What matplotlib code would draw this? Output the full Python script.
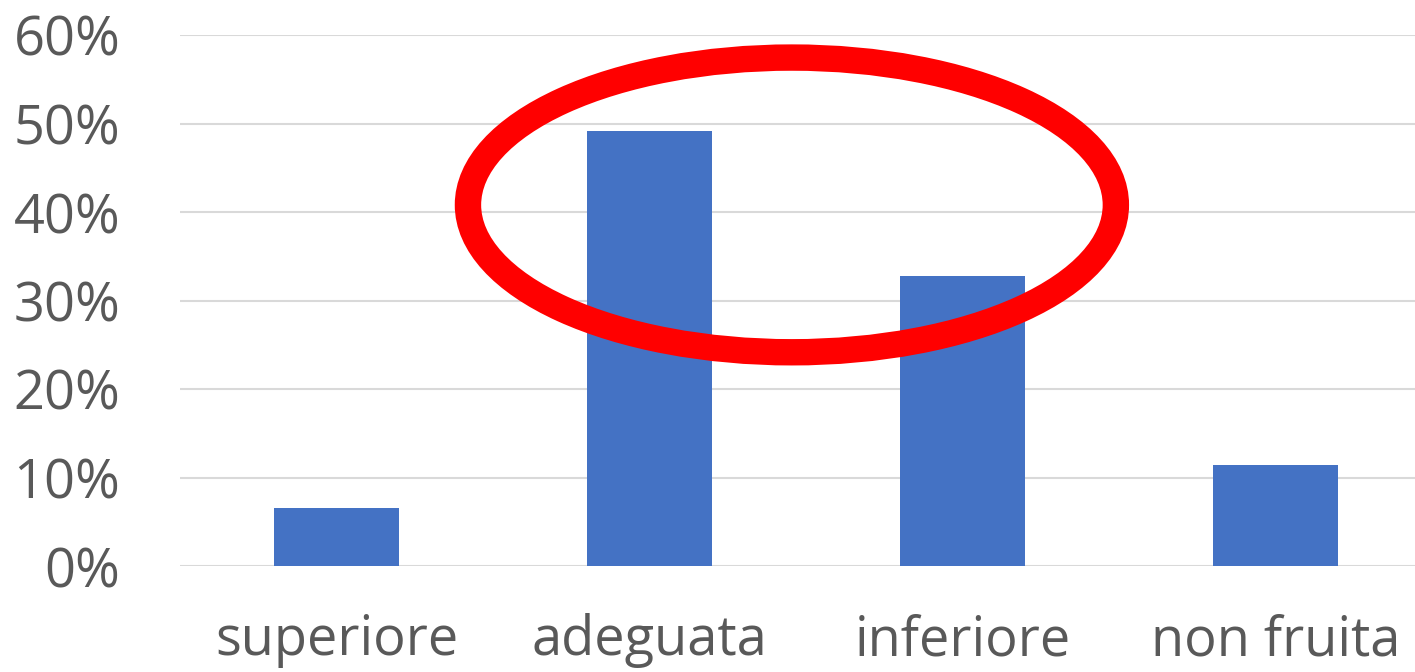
import matplotlib.pyplot as plt
from matplotlib.patches import Ellipse
from matplotlib.ticker import FuncFormatter

# dati
categorie = ['superiore', 'adeguata', 'inferiore', 'non fruita']
valori = [6.5, 49.2, 32.8, 11.4]

fig = plt.figure(figsize=(14.15, 6.72), dpi=100)
ax = fig.add_axes([180 / 1415, 1 - 566 / 672, 1252 / 1415, 531 / 672])

x = range(len(categorie))
ax.bar(x, valori, width=0.40, color='#4472C4', zorder=2)

ax.set_ylim(0, 60)
ax.set_xlim(-0.5, len(categorie) - 0.5)
ax.set_yticks(range(0, 61, 10))
ax.yaxis.set_major_formatter(FuncFormatter(lambda v, p: f'{v:.0f}%'))
ax.set_xticks(list(x))
ax.set_xticklabels(categorie)

ax.grid(axis='y', color='#d9d9d9', linewidth=1.5, zorder=0)
for s in ax.spines.values():
    s.set_visible(False)
ax.tick_params(length=0, labelsize=39, colors='#595959', pad=34)
ax.tick_params(axis='y', pad=43)
for lab in ax.get_yticklabels():
    lab.set_horizontalalignment('right')
    lab.set_fontfamily('Open Sans')
for lab in ax.get_xticklabels():
    lab.set_fontfamily('Open Sans')

# ellisse rossa
ax.add_patch(Ellipse((1.455, 40.8), 2.07, 33.3, fill=False, edgecolor='red',
                     linewidth=19, zorder=3, clip_on=False))

fig.savefig('out.png', dpi=100)
